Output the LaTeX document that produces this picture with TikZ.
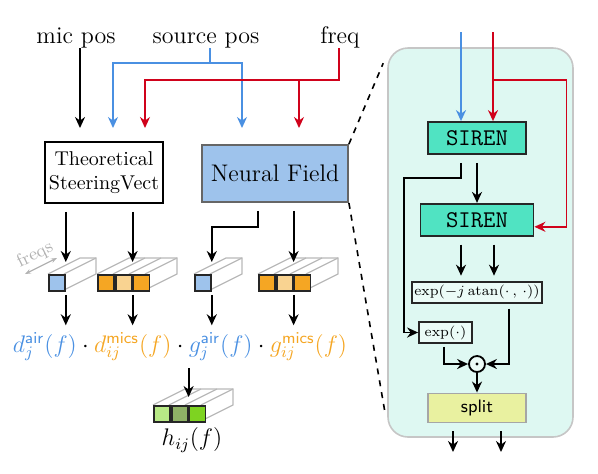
\documentclass[tikz,border=0pt]{standalone}
\usepackage{tikz}
\usetikzlibrary{arrows.meta, positioning, calc}
\usepackage{xcolor}
\definecolor{srcblue}{RGB}{74,144,226}
\definecolor{freqred}{RGB}{208,2,27}
\definecolor{nfblue}{RGB}{158,195,236}
\definecolor{micorange}{RGB}{245,166,35}
\definecolor{micorangelt}{RGB}{249,211,145}
\definecolor{hgreenlt}{RGB}{184,233,134}
\definecolor{hgreenmd}{RGB}{143,178,102}
\definecolor{hgreen}{RGB}{126,211,33}
\definecolor{sirenteal}{RGB}{80,227,194}
\definecolor{panelcyan}{RGB}{222,248,242}
\definecolor{splityellow}{RGB}{233,241,160}

% tensor seen in depth: x, y of the front top-left corner, number of cells
\newcommand{\tensorbox}[3]{%
  \draw[tensoredge] (#1,#2) -- ++(32,-16) -- ++(16*#3,0) -- ++(0,16) -- ++(-32,16);
  \foreach \k in {1,...,#3}{\draw[tensoredge] ({#1+16*\k},#2) -- ++(32,-16);}
}

\begin{document}
\begin{tikzpicture}[x=0.5pt, y=-0.5pt,
  arr/.style={-{Stealth[length=5.5pt, width=5pt]}, line width=0.9pt},
  bluearr/.style={arr, draw=srcblue, line width=0.75pt},
  redarr/.style={arr, draw=freqred, line width=0.75pt},
  tensoredge/.style={draw=gray!55, line width=0.6pt},
  tcell/.style={draw=black!85, line width=0.9pt, minimum size=8pt, inner sep=0pt, anchor=north west},
  sqbox/.style={rectangle, draw=black, line width=0.9pt, align=center, inner sep=2pt},
  sirenbox/.style={rectangle, draw=black!85, line width=0.9pt, fill=sirenteal,
                   minimum height=16pt, font=\large\ttfamily},
  opbox/.style={rectangle, draw=black!85, line width=0.9pt, fill=white!40!panelcyan,
                minimum height=10.5pt, inner sep=1pt, font=\fontsize{7.5}{9}\selectfont},
  panel/.style={rectangle, rounded corners=10pt, draw=gray!45, line width=0.8pt,
                fill=panelcyan, minimum width=92.5pt, minimum height=194.5pt, inner sep=0pt}
]
\useasboundingbox (0,0) rectangle (598,473);

% zoomed panel
\node[panel] (panel) at (480.5,242.5) {};

% inputs
\node[font=\large, anchor=base] (micpos) at (76,43) {mic pos};
\node[font=\large, anchor=base] (srcpos) at (206,43) {source pos};
\node[font=\large, anchor=base] (freq) at (340,43) {freq};

\node[sqbox, minimum width=59pt, minimum height=30.5pt] (thsv) at (104,172.5) {Theoretical\\SteeringVect};
\node[sqbox, draw=gray!80!black, fill=nfblue, minimum width=73pt, minimum height=28.5pt,
      font=\large] (nf) at (275,173.5) {Neural Field};

\coordinate (micin) at (80,128);
\coordinate (bluein1) at (113,128);
\coordinate (bluein2) at (242,128);
\coordinate (redin1) at (145,128);
\coordinate (redin2) at (299,128);
\coordinate (srcstem) at ($(srcpos.base)+(4,5)$);
\coordinate (freqstem) at ($(freq.base)+(-1,5)$);

\draw[arr] ($(micpos.base -| micin)+(0,5)$) -- (micin);
\draw[bluearr] (srcstem) |- ($(bluein1)+(0,-65)$) -- (bluein1);
\draw[bluearr] (srcstem) |- ($(bluein2)+(0,-65)$) -- (bluein2);
\draw[redarr] (freqstem) |- ($(redin1)+(0,-48)$) -- (redin1);
\draw[redarr] ($(redin2)+(0,-48)$) -- (redin2);

% tensors
\tensorbox{48}{274}{1}
\tensorbox{97}{274}{3}
\tensorbox{194}{274}{1}
\tensorbox{258}{274}{3}
\tensorbox{153}{405}{3}

\node[tcell, fill=nfblue] (dair) at (48,274) {};
\node[tcell, fill=micorange] (dmics1) at (97,274) {};
\node[tcell, fill=micorangelt, right=0pt of dmics1] (dmics2) {};
\node[tcell, fill=micorange, right=0pt of dmics2] (dmics3) {};
\node[tcell, fill=nfblue] (gair) at (194,274) {};
\node[tcell, fill=micorange] (gmics1) at (258,274) {};
\node[tcell, fill=micorangelt, right=0pt of gmics1] (gmics2) {};
\node[tcell, fill=micorange, right=0pt of gmics2] (gmics3) {};
\node[tcell, fill=hgreenlt] (h1) at (153,405) {};
\node[tcell, fill=hgreenmd, right=0pt of h1] (h2) {};
\node[tcell, fill=hgreen, right=0pt of h2] (h3) {};

\node[text=gray!60, font=\small, rotate=26.6] (freqs) at (35,255) {freqs};
\draw[{Stealth[length=3pt]}-{Stealth[length=3pt]}, gray!60, line width=0.6pt]
  ($(dair.north west)+(-23,0)$) -- ($(dair.north west)+(9,-16)$);

\draw[arr] ($(thsv.south -| dair.north east)+(0,8)$) -- ($(dair.north east)+(0,-12)$);
\draw[arr] ($(thsv.south -| dmics2.north east)+(0,8)$) -- ($(dmics2.north east)+(0,-12)$);
\draw[arr] ($(nf.south)+(-17,8)$) |- ($(gair.north east)+(0,-47)$) -- ($(gair.north east)+(0,-12)$);
\draw[arr] ($(nf.south -| gmics2.north east)+(0,8)$) -- ($(gmics2.north east)+(0,-12)$);

% product
\node[font=\large, anchor=base] (formula) at (180,352)
  {${\color{srcblue}d_j^{\mathsf{air}}(f)}\cdot{\color{micorange}d_{ij}^{\mathsf{mics}}(f)}\cdot
     {\color{srcblue}g_j^{\mathsf{air}}(f)}\cdot{\color{micorange}g_{ij}^{\mathsf{mics}}(f)}$};

\draw[arr] ($(dair.south east)+(0,3)$) -- (dair.south east |- formula.north);
\draw[arr] ($(dmics2.south east)+(0,3)$) -- (dmics2.south east |- formula.north);
\draw[arr] ($(gair.south east)+(0,3)$) -- (gair.south east |- formula.north);
\draw[arr] ($(gmics2.south east)+(0,3)$) -- (gmics2.south east |- formula.north);
\draw[arr] (h2.north east |- formula.south) -- ($(h2.north east)+(0,-8)$);

\node[font=\large] (hij) at (192,440) {$h_{ij}(f)$};

% zoom lines
\draw[dashed, line width=0.8pt] (nf.north east) -- ($(panel.north west)+(-4,16)$);
\draw[dashed, line width=0.8pt] (nf.south east) -- ($(panel.south west)+(-2,-24)$);

% inside the neural field
\node[sirenbox, minimum width=49pt] (siren1) at (477,138) {SIREN};
\node[sirenbox, minimum width=56.5pt, below=24pt of siren1] (siren2) {SIREN};
\node[opbox, minimum width=59.5pt, below=22pt of siren2] (atanbox) {$\exp(-j\,\mathrm{atan}(\cdot\,,\,\cdot))$};
\node[opbox, minimum width=26.5pt] (expbox) at (445.5,332.5) {$\exp(\cdot)$};
\node[circle, draw=black, line width=0.9pt, fill=white!40!panelcyan, minimum size=8pt, inner sep=0pt] (prod) at (477,364) {};
\fill (prod.center) circle (0.8pt);
\node[rectangle, draw=gray!70, line width=0.8pt, fill=splityellow, minimum width=49pt,
      minimum height=12pt, font=\small\sffamily] (split) at (477,408) {split};

\coordinate (sirenblue) at (461,32);
\coordinate (sirenred) at (493,32);
\coordinate (leftrail) at (404,178);
\coordinate (outa) at (453,452);
\coordinate (outb) at (501,452);

\draw[bluearr] (sirenblue) -- (sirenblue |- siren1.north);
\draw[redarr] (sirenred) -- (sirenred |- siren1.north);
\draw[redarr] ($(sirenred)+(0,48)$) -| ($(siren2.east)+(32,7)$) -- ($(siren2.east)+(0,7)$);

\draw[arr] ($(siren1.south)+(-16,8)$) |- (leftrail) |- (expbox.west);
\draw[arr] ($(siren1.south)+(0,8)$) -- (siren2.north);
\draw[arr] ($(siren2.south)+(-16,8)$) -- ($(siren2.south |- atanbox.north)+(-16,-5)$);
\draw[arr] ($(siren2.south)+(17,8)$) -- ($(siren2.south |- atanbox.north)+(17,-5)$);
\draw[arr] ($(atanbox.south)+(32,5)$) |- (prod.east);
\draw[arr] ($(expbox.south)+(-1.5,3)$) |- (prod.west);
\draw[arr] (prod.south) -- (split.north);
\draw[arr] ($(split.south -| outa)+(0,8)$) -- (outa);
\draw[arr] ($(split.south -| outb)+(0,8)$) -- (outb);

\end{tikzpicture}
\end{document}
